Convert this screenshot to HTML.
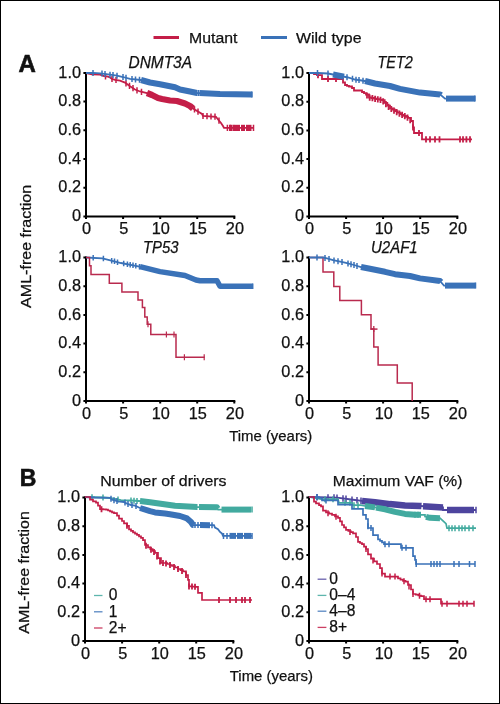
<!DOCTYPE html><html><head><meta charset="utf-8"><style>
html,body{margin:0;padding:0;background:#fff;}
svg{display:block;will-change:transform;}
.t{font-family:"Liberation Sans",sans-serif;font-size:16.3px;fill:#111;stroke:#111;stroke-width:0.25px;}
.i{font-family:"Liberation Sans",sans-serif;font-size:16.3px;font-style:italic;fill:#111;stroke:#111;stroke-width:0.25px;}
.b{font-family:"Liberation Sans",sans-serif;font-size:23px;font-weight:bold;fill:#111;stroke:#111;stroke-width:0.25px;}
</style></head><body>
<svg width="500" height="704" viewBox="0 0 500 704">
<rect x="0" y="0" width="500" height="704" fill="#fff"/>
<rect x="0.5" y="0.5" width="499" height="703" fill="none" stroke="#000" stroke-width="1"/>
<path d="M153.5,37.5H179" stroke="#c41e48" stroke-width="3"/>
<path d="M261,37.5H287" stroke="#3a72b8" stroke-width="3"/>
<text x="189" y="42.6" class="t" style="font-size:15.2px" textLength="48.4" lengthAdjust="spacingAndGlyphs">Mutant</text>
<text x="296" y="42.8" class="t" style="font-size:15.2px" textLength="65.5" lengthAdjust="spacingAndGlyphs">Wild type</text>
<text x="18.6" y="71.6" class="b" style="font-size:24px;stroke-width:0.6px">A</text>
<text x="19.8" y="485.6" class="b" style="font-size:23px;stroke-width:0.6px">B</text>
<text x="128.5" y="67.8" class="i" textLength="63.5" lengthAdjust="spacingAndGlyphs">DNMT3A</text>
<text x="377.5" y="68.2" class="i" textLength="35.3" lengthAdjust="spacingAndGlyphs">TET2</text>
<text x="143" y="252.6" class="i" textLength="35.5" lengthAdjust="spacingAndGlyphs">TP53</text>
<text x="371" y="252.6" class="i" textLength="46.7" lengthAdjust="spacingAndGlyphs">U2AF1</text>
<text x="100.2" y="486" class="t" style="font-size:15.5px" textLength="126.4" lengthAdjust="spacingAndGlyphs">Number of drivers</text>
<text x="332.8" y="486" class="t" style="font-size:15.5px" textLength="129.6" lengthAdjust="spacingAndGlyphs">Maximum VAF (%)</text>
<text transform="translate(31,307.9) rotate(-90)" x="0" y="0" class="t" style="font-size:15px" textLength="123.1" lengthAdjust="spacingAndGlyphs">AML-free fraction</text>
<text transform="translate(29,633.7) rotate(-90)" x="0" y="0" class="t" style="font-size:15px" textLength="122.6" lengthAdjust="spacingAndGlyphs">AML-free fraction</text>
<text x="229.2" y="440.9" class="t" style="font-size:15.5px" textLength="83.1" lengthAdjust="spacingAndGlyphs">Time (years)</text>
<text x="229.8" y="681" class="t" style="font-size:15.5px" textLength="83.2" lengthAdjust="spacingAndGlyphs">Time (years)</text>
<path d="M86,71.9 V217.4 M85,216.4 H235.3" fill="none" stroke="#000" stroke-width="2"/>
<path d="M83.4,216.4H86M83.4,187.7H86M83.4,159.0H86M83.4,130.3H86M83.4,101.6H86M83.4,72.9H86M86.0,216.4V219.0M123.1,216.4V219.0M160.2,216.4V219.0M197.2,216.4V219.0M234.3,216.4V219.0" fill="none" stroke="#000" stroke-width="2"/>
<text x="81" y="221.0" text-anchor="end" class="t">0</text>
<text x="81" y="192.3" text-anchor="end" class="t">0.2</text>
<text x="81" y="163.6" text-anchor="end" class="t">0.4</text>
<text x="81" y="134.9" text-anchor="end" class="t">0.6</text>
<text x="81" y="106.2" text-anchor="end" class="t">0.8</text>
<text x="81" y="77.5" text-anchor="end" class="t">1.0</text>
<text x="86.6" y="234.2" text-anchor="middle" class="t">0</text>
<text x="123.7" y="234.2" text-anchor="middle" class="t">5</text>
<text x="160.8" y="234.2" text-anchor="middle" class="t">10</text>
<text x="197.8" y="234.2" text-anchor="middle" class="t">15</text>
<text x="234.9" y="234.2" text-anchor="middle" class="t">20</text>
<path d="M309,72.0 V217.5 M308,216.5 H458.3" fill="none" stroke="#000" stroke-width="2"/>
<path d="M306.4,216.5H309M306.4,187.8H309M306.4,159.1H309M306.4,130.4H309M306.4,101.7H309M306.4,73.0H309M309.0,216.5V219.1M346.1,216.5V219.1M383.1,216.5V219.1M420.2,216.5V219.1M457.3,216.5V219.1" fill="none" stroke="#000" stroke-width="2"/>
<text x="304" y="221.1" text-anchor="end" class="t">0</text>
<text x="304" y="192.4" text-anchor="end" class="t">0.2</text>
<text x="304" y="163.7" text-anchor="end" class="t">0.4</text>
<text x="304" y="135.0" text-anchor="end" class="t">0.6</text>
<text x="304" y="106.3" text-anchor="end" class="t">0.8</text>
<text x="304" y="77.6" text-anchor="end" class="t">1.0</text>
<text x="309.6" y="234.3" text-anchor="middle" class="t">0</text>
<text x="346.7" y="234.3" text-anchor="middle" class="t">5</text>
<text x="383.8" y="234.3" text-anchor="middle" class="t">10</text>
<text x="420.8" y="234.3" text-anchor="middle" class="t">15</text>
<text x="457.9" y="234.3" text-anchor="middle" class="t">20</text>
<path d="M86,256.5 V402 M85,401 H235.3" fill="none" stroke="#000" stroke-width="2"/>
<path d="M83.4,401.0H86M83.4,372.3H86M83.4,343.6H86M83.4,314.9H86M83.4,286.2H86M83.4,257.5H86M86.0,401V403.6M123.1,401V403.6M160.2,401V403.6M197.2,401V403.6M234.3,401V403.6" fill="none" stroke="#000" stroke-width="2"/>
<text x="81" y="405.6" text-anchor="end" class="t">0</text>
<text x="81" y="376.9" text-anchor="end" class="t">0.2</text>
<text x="81" y="348.2" text-anchor="end" class="t">0.4</text>
<text x="81" y="319.5" text-anchor="end" class="t">0.6</text>
<text x="81" y="290.8" text-anchor="end" class="t">0.8</text>
<text x="81" y="262.1" text-anchor="end" class="t">1.0</text>
<text x="86.6" y="418.8" text-anchor="middle" class="t">0</text>
<text x="123.7" y="418.8" text-anchor="middle" class="t">5</text>
<text x="160.8" y="418.8" text-anchor="middle" class="t">10</text>
<text x="197.8" y="418.8" text-anchor="middle" class="t">15</text>
<text x="234.9" y="418.8" text-anchor="middle" class="t">20</text>
<path d="M309,256.5 V402 M308,401 H458.3" fill="none" stroke="#000" stroke-width="2"/>
<path d="M306.4,401.0H309M306.4,372.3H309M306.4,343.6H309M306.4,314.9H309M306.4,286.2H309M306.4,257.5H309M309.0,401V403.6M346.1,401V403.6M383.1,401V403.6M420.2,401V403.6M457.3,401V403.6" fill="none" stroke="#000" stroke-width="2"/>
<text x="304" y="405.6" text-anchor="end" class="t">0</text>
<text x="304" y="376.9" text-anchor="end" class="t">0.2</text>
<text x="304" y="348.2" text-anchor="end" class="t">0.4</text>
<text x="304" y="319.5" text-anchor="end" class="t">0.6</text>
<text x="304" y="290.8" text-anchor="end" class="t">0.8</text>
<text x="304" y="262.1" text-anchor="end" class="t">1.0</text>
<text x="309.6" y="418.8" text-anchor="middle" class="t">0</text>
<text x="346.7" y="418.8" text-anchor="middle" class="t">5</text>
<text x="383.8" y="418.8" text-anchor="middle" class="t">10</text>
<text x="420.8" y="418.8" text-anchor="middle" class="t">15</text>
<text x="457.9" y="418.8" text-anchor="middle" class="t">20</text>
<path d="M85,496.5 V642 M84,641 H234.3" fill="none" stroke="#000" stroke-width="2"/>
<path d="M82.4,641.0H85M82.4,612.3H85M82.4,583.6H85M82.4,554.9H85M82.4,526.2H85M82.4,497.5H85M85.0,641V643.6M122.1,641V643.6M159.2,641V643.6M196.2,641V643.6M233.3,641V643.6" fill="none" stroke="#000" stroke-width="2"/>
<text x="80" y="645.6" text-anchor="end" class="t">0</text>
<text x="80" y="616.9" text-anchor="end" class="t">0.2</text>
<text x="80" y="588.2" text-anchor="end" class="t">0.4</text>
<text x="80" y="559.5" text-anchor="end" class="t">0.6</text>
<text x="80" y="530.8" text-anchor="end" class="t">0.8</text>
<text x="80" y="502.1" text-anchor="end" class="t">1.0</text>
<text x="85.6" y="658.8" text-anchor="middle" class="t">0</text>
<text x="122.7" y="658.8" text-anchor="middle" class="t">5</text>
<text x="159.8" y="658.8" text-anchor="middle" class="t">10</text>
<text x="196.8" y="658.8" text-anchor="middle" class="t">15</text>
<text x="233.9" y="658.8" text-anchor="middle" class="t">20</text>
<path d="M309,496.5 V642 M308,641 H458.3" fill="none" stroke="#000" stroke-width="2"/>
<path d="M306.4,641.0H309M306.4,612.3H309M306.4,583.6H309M306.4,554.9H309M306.4,526.2H309M306.4,497.5H309M309.0,641V643.6M346.1,641V643.6M383.1,641V643.6M420.2,641V643.6M457.3,641V643.6" fill="none" stroke="#000" stroke-width="2"/>
<text x="304" y="645.6" text-anchor="end" class="t">0</text>
<text x="304" y="616.9" text-anchor="end" class="t">0.2</text>
<text x="304" y="588.2" text-anchor="end" class="t">0.4</text>
<text x="304" y="559.5" text-anchor="end" class="t">0.6</text>
<text x="304" y="530.8" text-anchor="end" class="t">0.8</text>
<text x="304" y="502.1" text-anchor="end" class="t">1.0</text>
<text x="309.6" y="658.8" text-anchor="middle" class="t">0</text>
<text x="346.7" y="658.8" text-anchor="middle" class="t">5</text>
<text x="383.8" y="658.8" text-anchor="middle" class="t">10</text>
<text x="420.8" y="658.8" text-anchor="middle" class="t">15</text>
<text x="457.9" y="658.8" text-anchor="middle" class="t">20</text>
<path d="M86.0,73.0 L92.0,74.3 L100.0,74.7 L104.0,76.1 L108.0,76.6 L110.0,77.5 L112.0,78.9 L115.0,79.8 L120.0,80.7 L125.0,82.6 L130.0,86.2 L135.0,89.5 L140.0,91.5 L147.0,93.0 L152.0,95.0 L158.0,98.0 L162.0,99.0 L170.0,100.5 L177.0,101.0 L185.0,103.5 L190.0,106.0 L193.0,108.5 L202.0,114.0 L203.0,116.0 L216.0,116.8 L219.0,120.7 L221.0,123.0 L223.0,126.0 L224.0,127.9 L254.0,127.9" fill="none" stroke="#c41e48" stroke-width="1.8" stroke-linejoin="miter"/>
<path d="M147.0,93.0 L152.0,95.0 L158.0,98.0 L162.0,99.0 L170.0,100.5 L177.0,101.0 L185.0,103.5 L190.0,106.0 L193.0,108.5" fill="none" stroke="#c41e48" stroke-width="6.2" stroke-linejoin="round" stroke-linecap="butt"/>
<path d="M229.0,127.9 L232.5,127.9" fill="none" stroke="#c41e48" stroke-width="6.2" stroke-linejoin="round" stroke-linecap="butt"/>
<path d="M234.0,127.9 L240.0,127.9" fill="none" stroke="#c41e48" stroke-width="6.2" stroke-linejoin="round" stroke-linecap="butt"/>
<path d="M241.0,127.9 L245.0,127.9" fill="none" stroke="#c41e48" stroke-width="6.2" stroke-linejoin="round" stroke-linecap="butt"/>
<path d="M246.0,127.9 L251.5,127.9" fill="none" stroke="#c41e48" stroke-width="6.2" stroke-linejoin="round" stroke-linecap="butt"/>
<path d="M105.5,73.2v6.2M112.0,75.8v6.2M116.0,76.9v6.2M126.0,80.2v6.2M129.5,82.7v6.2M133.0,85.1v6.2M137.0,87.2v6.2M141.5,88.7v6.2M194.5,106.3v6.2M198.0,108.5v6.2M203.0,112.9v6.2M207.0,113.1v6.2M211.0,113.4v6.2M215.0,113.6v6.2M219.0,117.6v6.2M227.4,124.8v6.2M230.4,124.8v6.2M233.5,124.8v6.2M253.5,124.8v6.2" fill="none" stroke="#c41e48" stroke-width="1.5"/>
<path d="M86.0,73.0 L93.0,72.9 L100.0,73.4 L104.0,73.8 L110.0,74.7 L117.0,75.7 L123.0,77.0 L130.0,78.9 L141.0,80.0 L150.0,82.5 L160.0,84.2 L175.0,87.3 L180.0,89.5 L190.0,91.5 L197.0,93.0 L220.0,94.0 L252.0,94.6" fill="none" stroke="#3a72b8" stroke-width="1.8" stroke-linejoin="miter"/>
<path d="M141.0,80.0 L150.0,82.5 L160.0,84.2 L175.0,87.3 L180.0,89.5 L190.0,91.5 L197.0,93.0 L197.5,93.0" fill="none" stroke="#3a72b8" stroke-width="6" stroke-linejoin="round" stroke-linecap="butt"/>
<path d="M199.5,93.1 L220.0,94.0 L252.0,94.6" fill="none" stroke="#3a72b8" stroke-width="6" stroke-linejoin="round" stroke-linecap="butt"/>
<path d="M93.0,69.9v6M102.0,70.6v6M105.0,71.0v6M110.0,71.7v6M113.0,72.1v6M117.0,72.7v6M123.0,74.0v6M126.0,74.8v6M132.0,76.1v6M135.5,76.5v6M139.5,76.8v6M198.5,90.1v6M252.0,91.6v6" fill="none" stroke="#3a72b8" stroke-width="1.5"/>
<path d="M309.0,73.0 L314.0,73.0 L314.0,74.0 L317.0,74.0 L317.0,75.2 L322.0,75.2 L322.0,79.0 L341.0,79.0 L343.0,79.0 L343.0,82.5 L345.0,82.5 L345.0,85.0 L347.0,85.0 L347.0,85.8 L349.0,85.8 L349.0,86.5 L352.0,86.5 L352.0,88.0 L354.0,88.0 L354.0,90.5 L361.0,90.5 L362.0,90.5 L362.0,92.0 L364.0,92.0 L364.0,93.2 L366.0,93.2 L366.0,94.5 L369.0,94.5 L369.0,97.5 L371.6,97.5 L371.6,98.0 L374.2,98.0 L374.2,98.6 L376.8,98.6 L376.8,99.1 L379.4,99.1 L379.4,99.7 L382.0,99.7 L382.0,100.2 L384.7,100.2 L384.7,102.9 L387.3,102.9 L387.3,105.6 L390.0,105.6 L390.0,108.3 L392.5,108.3 L392.5,109.7 L395.0,109.7 L395.0,111.2 L397.5,111.2 L397.5,112.6 L400.0,112.6 L400.0,114.0 L402.0,114.0 L402.0,114.9 L404.0,114.9 L404.0,115.8 L406.0,115.8 L406.0,116.8 L408.0,116.8 L408.0,117.8 L411.0,117.8 L411.0,121.0 L413.0,121.0 L413.0,127.4 L414.0,127.4 L414.0,133.0 L422.0,133.0 L422.0,139.4 L472.0,139.4" fill="none" stroke="#c41e48" stroke-width="1.8" stroke-linejoin="miter"/>
<path d="M318.0,72.1v6.2M328.0,75.9v6.2M336.0,75.9v6.2M367.0,92.4v6.2M369.7,94.5v6.2M372.4,95.1v6.2M375.1,95.7v6.2M377.8,96.2v6.2M380.5,96.8v6.2M383.2,98.3v6.2M385.9,101.0v6.2M388.6,103.8v6.2M391.3,105.9v6.2M394.0,107.5v6.2M396.7,109.0v6.2M399.4,110.6v6.2M402.1,111.8v6.2M404.8,113.1v6.2M407.5,114.5v6.2M410.2,117.0v6.2M413.0,124.3v6.2M419.0,129.9v6.2M426.0,136.3v6.2M430.0,136.3v6.2M435.0,136.3v6.2M439.5,136.3v6.2M460.0,136.3v6.2M463.0,136.3v6.2M466.4,136.3v6.2M470.0,136.3v6.2" fill="none" stroke="#c41e48" stroke-width="1.8"/>
<path d="M309.0,73.0 L317.5,73.0 L328.0,73.5 L333.0,74.5 L343.0,76.5 L348.0,77.5 L355.0,79.5 L365.0,81.0 L375.0,83.5 L390.0,86.0 L400.0,88.9 L420.0,92.6 L440.0,94.4 L445.0,98.6 L475.0,98.6" fill="none" stroke="#3a72b8" stroke-width="1.8" stroke-linejoin="miter"/>
<path d="M333.0,74.5 L343.0,76.5 L344.0,76.7" fill="none" stroke="#3a72b8" stroke-width="6" stroke-linejoin="round" stroke-linecap="butt"/>
<path d="M365.0,81.0 L375.0,83.5 L390.0,86.0 L400.0,88.9 L420.0,92.6 L440.0,94.4 L441.0,95.2" fill="none" stroke="#3a72b8" stroke-width="6" stroke-linejoin="round" stroke-linecap="butt"/>
<path d="M446.0,98.6 L475.0,98.6" fill="none" stroke="#3a72b8" stroke-width="6" stroke-linejoin="round" stroke-linecap="butt"/>
<path d="M317.5,70.0v6M328.0,70.5v6M347.0,74.3v6M352.5,75.8v6M356.0,76.7v6M359.0,77.1v6M363.0,77.7v6M475.0,95.6v6" fill="none" stroke="#3a72b8" stroke-width="1.5"/>
<path d="M86.0,257.5 L102.5,258.3 L121.0,263.0 L139.5,266.6 L160.0,271.6 L185.0,275.5 L196.0,280.0 L200.0,280.7 L217.0,280.7 L220.0,286.2 L252.7,286.2" fill="none" stroke="#3a72b8" stroke-width="1.8" stroke-linejoin="miter"/>
<path d="M140.0,266.7 L160.0,271.6 L185.0,275.5 L196.0,280.0 L200.0,280.7 L217.0,280.7 L220.0,286.2 L252.7,286.2" fill="none" stroke="#3a72b8" stroke-width="5.5" stroke-linejoin="round" stroke-linecap="butt"/>
<path d="M93.2,255.1v5.5M103.4,255.8v5.5M111.7,257.9v5.5M114.5,258.6v5.5M117.5,259.4v5.5M123.7,260.8v5.5M127.4,261.5v5.5M130.2,262.0v5.5M133.0,262.6v5.5M135.8,263.1v5.5M139.5,263.9v5.5M252.7,283.4v5.5" fill="none" stroke="#3a72b8" stroke-width="1.5"/>
<path d="M86.0,257.5 L89.5,257.5 L89.5,265.7 L91.0,265.7 L91.0,274.4 L109.3,274.4 L109.3,283.3 L121.9,283.3 L121.9,292.1 L138.0,292.1 L138.0,299.9 L142.4,299.9 L142.4,307.6 L144.8,307.6 L144.8,317.0 L147.2,317.0 L147.2,324.3 L150.8,324.3 L150.8,334.6 L176.0,334.6 L176.0,357.2 L204.7,357.2" fill="none" stroke="#b92a4e" stroke-width="1.5" stroke-linejoin="miter"/>
<path d="M148.0,321.3v6M166.4,331.6v6M174.0,331.6v6M184.4,354.2v6M204.2,354.2v6" fill="none" stroke="#b92a4e" stroke-width="1.2"/>
<path d="M309.0,257.5 L323.0,257.5 L323.0,272.0 L333.8,272.0 L333.8,286.5 L339.8,286.5 L339.8,300.4 L361.4,300.4 L361.4,314.7 L371.0,314.7 L371.0,329.1 L373.8,329.1 L373.8,347.1 L378.1,347.1 L378.1,365.1 L397.3,365.1 L397.3,383.1 L412.2,383.1 L412.2,401.0" fill="none" stroke="#b92a4e" stroke-width="1.5" stroke-linejoin="miter"/>
<path d="M373.8,326.1v6" fill="none" stroke="#b92a4e" stroke-width="1.3"/>
<path d="M370.5,329.1H377.5" stroke="#b92a4e" stroke-width="1.5"/>
<path d="M309.0,257.5 L323.0,257.5 L327.0,258.4 L333.0,260.2 L345.0,262.6 L354.0,265.0 L361.0,267.0 L370.0,268.8 L385.0,271.8 L395.0,274.2 L410.0,276.0 L420.0,278.4 L440.0,281.0 L444.0,285.6 L475.5,285.6" fill="none" stroke="#3a72b8" stroke-width="1.8" stroke-linejoin="miter"/>
<path d="M361.0,267.0 L370.0,268.8 L385.0,271.8 L395.0,274.2 L410.0,276.0 L420.0,278.4 L440.0,281.0 L441.0,282.1" fill="none" stroke="#3a72b8" stroke-width="6" stroke-linejoin="round" stroke-linecap="butt"/>
<path d="M445.0,285.6 L475.5,285.6" fill="none" stroke="#3a72b8" stroke-width="6" stroke-linejoin="round" stroke-linecap="butt"/>
<path d="M317.0,254.5v6M325.0,254.9v6M329.0,256.0v6M334.0,257.4v6M338.0,258.2v6M342.0,259.0v6M348.0,260.4v6M351.0,261.2v6M354.0,262.0v6M357.0,262.9v6M475.5,282.6v6" fill="none" stroke="#3a72b8" stroke-width="1.5"/>
<path d="M85.0,497.0 L103.0,497.5 L110.0,498.0 L115.0,499.0 L121.0,500.2 L131.0,500.5 L139.0,501.0 L150.0,502.2 L175.0,505.8 L197.0,507.0 L217.0,507.3 L218.0,509.6 L251.0,509.6" fill="none" stroke="#42aa9f" stroke-width="1.8" stroke-linejoin="miter"/>
<path d="M140.0,501.1 L150.0,502.2 L175.0,505.8 L197.0,507.0 L197.5,507.0" fill="none" stroke="#42aa9f" stroke-width="6" stroke-linejoin="round" stroke-linecap="butt"/>
<path d="M199.0,507.0 L217.0,507.3 L217.5,508.5" fill="none" stroke="#42aa9f" stroke-width="6" stroke-linejoin="round" stroke-linecap="butt"/>
<path d="M221.5,509.6 L251.0,509.6" fill="none" stroke="#42aa9f" stroke-width="6" stroke-linejoin="round" stroke-linecap="butt"/>
<path d="M92.0,494.2v6M103.0,494.5v6M118.0,496.6v6M131.0,497.5v6M134.0,497.7v6M137.0,497.9v6M252.0,506.6v6" fill="none" stroke="#42aa9f" stroke-width="1.5"/>
<path d="M85.0,497.0 L95.0,497.5 L110.0,497.8 L112.0,499.6 L118.0,501.4 L124.0,502.0 L126.0,503.2 L131.0,505.0 L135.0,505.6 L140.0,508.0 L150.0,511.2 L155.0,512.4 L165.0,513.6 L170.0,514.2 L180.0,516.0 L187.0,518.4 L191.0,522.0 L193.0,525.0 L214.0,525.2 L215.0,527.5 L218.0,529.2 L220.0,532.0 L222.0,533.6 L223.0,535.9 L252.0,535.9" fill="none" stroke="#3a72b8" stroke-width="1.8" stroke-linejoin="miter"/>
<path d="M140.0,508.0 L150.0,511.2 L155.0,512.4 L165.0,513.6 L170.0,514.2 L180.0,516.0 L187.0,518.4 L191.0,522.0 L193.0,525.0 L193.5,525.0" fill="none" stroke="#3a72b8" stroke-width="6" stroke-linejoin="round" stroke-linecap="butt"/>
<path d="M200.0,525.1 L210.0,525.2" fill="none" stroke="#3a72b8" stroke-width="6" stroke-linejoin="round" stroke-linecap="butt"/>
<path d="M229.5,535.9 L236.0,535.9" fill="none" stroke="#3a72b8" stroke-width="6" stroke-linejoin="round" stroke-linecap="butt"/>
<path d="M237.0,535.9 L243.0,535.9" fill="none" stroke="#3a72b8" stroke-width="6" stroke-linejoin="round" stroke-linecap="butt"/>
<path d="M244.0,535.9 L251.0,535.9" fill="none" stroke="#3a72b8" stroke-width="6" stroke-linejoin="round" stroke-linecap="butt"/>
<path d="M111.0,495.7v6M114.0,497.2v6M117.0,498.1v6M125.0,499.6v6M128.0,500.9v6M132.0,502.1v6M136.0,503.1v6M195.0,522.0v6M198.0,522.0v6M212.0,522.2v6M223.5,532.9v6M227.0,532.9v6M252.0,532.9v6" fill="none" stroke="#3a72b8" stroke-width="1.5"/>
<path d="M85.0,497.0 L88.0,497.0 L90.0,497.0 L90.0,499.6 L93.0,499.6 L93.0,501.4 L96.0,501.4 L96.0,502.6 L98.0,502.6 L98.0,505.6 L100.0,505.6 L100.0,509.2 L103.0,509.2 L103.0,509.4 L106.0,509.4 L106.0,509.6 L108.0,509.6 L108.0,510.5 L110.0,510.5 L110.0,511.4 L112.0,511.4 L112.0,512.3 L114.0,512.3 L114.0,513.2 L117.0,513.2 L117.0,515.6 L119.0,515.6 L119.0,518.6 L122.0,518.6 L122.0,521.0 L124.0,521.0 L124.0,523.4 L127.0,523.4 L127.0,525.8 L129.0,525.8 L129.0,529.4 L131.0,529.4 L131.0,530.9 L133.0,530.9 L133.0,532.4 L135.0,532.4 L135.0,533.6 L137.0,533.6 L137.0,534.8 L139.0,534.8 L139.0,536.3 L141.0,536.3 L141.0,537.8 L143.0,537.8 L143.0,540.2 L145.0,540.2 L145.0,545.0 L148.0,545.0 L148.0,547.4 L150.3,547.4 L150.3,549.2 L152.7,549.2 L152.7,551.0 L155.0,551.0 L155.0,552.8 L158.0,552.8 L158.0,558.2 L161.0,558.2 L161.0,563.0 L165.0,563.0 L167.3,563.0 L167.3,564.0 L169.7,564.0 L169.7,565.0 L172.0,565.0 L172.0,566.0 L175.0,566.0 L175.0,567.5 L178.0,567.5 L178.0,569.0 L180.5,569.0 L180.5,570.2 L183.0,570.2 L183.0,571.4 L186.0,571.4 L186.0,575.0 L188.0,575.0 L188.0,579.8 L189.0,579.8 L189.0,586.4 L192.0,586.4 L192.0,586.6 L195.0,586.6 L195.0,586.8 L198.0,586.8 L198.0,587.0 L198.0,592.8 L202.0,592.8 L202.0,600.0 L252.0,600.0" fill="none" stroke="#c41e48" stroke-width="1.7" stroke-linejoin="miter"/>
<path d="M101.5,506.3v6M127.0,522.8v6M146.0,542.8v6M151.0,546.7v6M154.0,549.0v6M157.0,553.4v6M160.0,558.4v6M163.0,560.0v6M166.0,560.4v6M170.0,562.1v6M174.0,564.0v6M178.0,566.0v6M182.0,567.9v6M186.0,572.0v6M189.0,583.4v6M192.0,583.6v6M195.0,583.8v6M219.0,597.0v6M230.0,597.0v6M236.0,597.0v6M242.0,597.0v6M245.0,597.0v6M250.0,597.0v6" fill="none" stroke="#c41e48" stroke-width="1.8"/>
<path d="M309.0,497.0 L337.0,497.6 L355.0,500.0 L362.0,500.9 L375.0,502.2 L390.0,504.1 L405.0,505.4 L420.0,506.0 L443.0,507.4 L443.0,510.0 L476.0,510.0" fill="none" stroke="#4d449e" stroke-width="1.8" stroke-linejoin="miter"/>
<path d="M362.0,500.9 L375.0,502.2 L390.0,504.1 L405.0,505.4 L420.0,506.0 L421.5,506.1" fill="none" stroke="#4d449e" stroke-width="6.5" stroke-linejoin="round" stroke-linecap="butt"/>
<path d="M423.0,506.2 L443.0,507.4" fill="none" stroke="#4d449e" stroke-width="6.5" stroke-linejoin="round" stroke-linecap="butt"/>
<path d="M447.0,510.0 L474.0,510.0" fill="none" stroke="#4d449e" stroke-width="6.5" stroke-linejoin="round" stroke-linecap="butt"/>
<path d="M317.0,493.9v6.5M328.0,494.2v6.5M334.0,494.3v6.5M337.0,494.4v6.5M343.0,495.2v6.5M346.0,495.6v6.5M352.0,496.4v6.5M357.0,497.0v6.5M361.0,497.5v6.5M476.0,506.8v6.5" fill="none" stroke="#4d449e" stroke-width="1.5"/>
<path d="M309.0,497.0 L321.0,499.2 L338.0,499.2 L339.0,502.8 L352.0,502.8 L353.0,505.2 L361.0,505.2 L365.0,506.0 L375.0,507.4 L385.0,509.3 L395.0,511.9 L405.0,513.9 L415.0,514.8 L425.0,514.8 L425.0,516.5 L430.0,517.8 L440.0,518.2 L446.0,523.6 L447.0,528.2 L476.0,528.2" fill="none" stroke="#42aa9f" stroke-width="1.7" stroke-linejoin="miter"/>
<path d="M365.0,506.0 L375.0,507.4" fill="none" stroke="#42aa9f" stroke-width="6" stroke-linejoin="round" stroke-linecap="butt"/>
<path d="M376.0,507.6 L385.0,509.3 L395.0,511.9 L405.0,513.9 L415.0,514.8 L421.0,514.8" fill="none" stroke="#42aa9f" stroke-width="6" stroke-linejoin="round" stroke-linecap="butt"/>
<path d="M426.0,516.8 L430.0,517.8 L440.0,518.2" fill="none" stroke="#42aa9f" stroke-width="6" stroke-linejoin="round" stroke-linecap="butt"/>
<path d="M325.0,496.2v6M333.0,496.2v6M345.0,499.8v6M350.0,499.8v6M354.0,502.2v6M358.0,502.2v6M415.0,511.8v6M418.0,511.8v6M449.0,525.2v6M452.0,525.2v6M455.0,525.2v6M459.0,525.2v6M462.0,525.2v6M465.0,525.2v6M469.0,525.2v6M473.0,525.2v6" fill="none" stroke="#42aa9f" stroke-width="1.5"/>
<path d="M309.0,497.0 L318.0,497.0 L319.0,497.0 L319.0,498.0 L322.0,498.0 L322.0,500.4 L338.0,500.4 L338.0,504.6 L352.0,504.6 L352.0,508.8 L361.0,508.8 L363.0,508.8 L363.0,514.8 L366.0,514.8 L366.0,519.0 L368.0,519.0 L368.0,526.2 L368.0,528.0 L373.0,528.0 L373.0,535.2 L378.0,535.2 L378.0,539.4 L380.0,539.4 L380.0,540.9 L382.0,540.9 L382.0,542.4 L384.0,542.4 L384.0,544.2 L401.0,544.2 L401.0,547.8 L411.0,547.8 L413.0,547.8 L413.0,556.2 L415.0,556.2 L415.0,559.8 L416.0,559.8 L416.0,564.0 L475.0,564.0" fill="none" stroke="#3a72b8" stroke-width="1.7" stroke-linejoin="miter"/>
<path d="M317.0,494.0v6M326.0,497.4v6M368.0,523.2v6M371.0,525.0v6M385.0,541.2v6M389.0,541.2v6M402.0,544.8v6M406.0,544.8v6M416.2,561.0v6M431.0,561.0v6M434.0,561.0v6M437.0,561.0v6M440.0,561.0v6M454.0,561.0v6M459.0,561.0v6M469.5,561.0v6M475.0,561.0v6" fill="none" stroke="#3a72b8" stroke-width="1.5"/>
<path d="M309.0,497.0 L312.0,497.0 L314.0,497.0 L314.0,501.6 L316.0,501.6 L316.0,503.4 L319.0,503.4 L319.0,505.2 L321.0,505.2 L321.0,506.4 L323.0,506.4 L323.0,510.6 L326.0,510.6 L326.0,512.4 L329.0,512.4 L329.0,513.6 L332.0,513.6 L332.0,514.8 L335.0,514.8 L335.0,516.3 L338.0,516.3 L338.0,517.8 L340.0,517.8 L340.0,521.4 L342.0,521.4 L342.0,525.0 L344.0,525.0 L344.0,527.4 L346.0,527.4 L346.0,529.8 L348.3,529.8 L348.3,531.0 L350.7,531.0 L350.7,532.2 L353.0,532.2 L353.0,533.4 L356.0,533.4 L356.0,537.0 L358.0,537.0 L358.0,541.8 L360.0,541.8 L360.0,543.0 L362.0,543.0 L362.0,544.2 L364.0,544.2 L364.0,546.6 L366.0,546.6 L366.0,549.0 L368.0,549.0 L368.0,554.4 L371.0,554.4 L371.0,558.6 L374.0,558.6 L374.0,561.3 L377.0,561.3 L377.0,564.0 L380.0,564.0 L380.0,568.2 L382.0,568.2 L382.0,573.6 L385.0,573.6 L385.0,576.6 L395.0,576.6 L398.0,576.6 L398.0,578.4 L400.5,578.4 L400.5,579.6 L403.0,579.6 L403.0,580.8 L405.5,580.8 L405.5,581.7 L408.0,581.7 L408.0,582.6 L408.0,585.0 L411.0,585.0 L411.0,589.5 L413.0,589.5 L413.0,594.0 L415.7,594.0 L415.7,594.7 L418.3,594.7 L418.3,595.5 L421.0,595.5 L421.0,596.2 L424.0,596.2 L424.0,599.2 L441.0,599.2 L441.0,603.7 L474.0,603.7" fill="none" stroke="#c41e48" stroke-width="1.7" stroke-linejoin="miter"/>
<path d="M328.0,510.2v6M336.0,513.8v6M350.0,528.9v6M366.0,546.0v6M373.0,557.4v6M382.0,570.6v6M390.0,573.6v6M395.0,573.6v6M404.0,578.2v6M409.0,583.5v6M413.0,591.0v6M419.5,592.8v6M426.0,596.2v6M430.0,596.2v6M442.0,600.7v6M447.0,600.7v6M459.0,600.7v6M463.0,600.7v6M467.0,600.7v6M474.0,600.7v6" fill="none" stroke="#c41e48" stroke-width="1.5"/>
<path d="M94,595.5H102.5" stroke="#42aa9f" stroke-width="1.3" opacity="0.85"/>
<text x="108.8" y="600.4" class="t" style="font-size:15.6px">0</text>
<path d="M94,611.8H102.5" stroke="#3a72b8" stroke-width="1.3" opacity="0.85"/>
<text x="108.8" y="616.7" class="t" style="font-size:15.6px">1</text>
<path d="M94,628H102.5" stroke="#c41e48" stroke-width="1.3" opacity="0.85"/>
<text x="108.8" y="632.9" class="t" style="font-size:15.6px">2+</text>
<path d="M317.6,579.2H326.4" stroke="#4d449e" stroke-width="1.3" opacity="0.85"/>
<text x="329.3" y="584.1" class="t" style="font-size:15.6px">0</text>
<path d="M317.6,595.4H326.4" stroke="#42aa9f" stroke-width="1.3" opacity="0.85"/>
<text x="329.3" y="600.3" class="t" style="font-size:15.6px">0–4</text>
<path d="M317.6,611.2H326.4" stroke="#3a72b8" stroke-width="1.3" opacity="0.85"/>
<text x="329.3" y="616.1" class="t" style="font-size:15.6px">4–8</text>
<path d="M317.6,627.4H326.4" stroke="#c41e48" stroke-width="1.3" opacity="0.85"/>
<text x="329.3" y="632.3" class="t" style="font-size:15.6px">8+</text>
</svg></body></html>
